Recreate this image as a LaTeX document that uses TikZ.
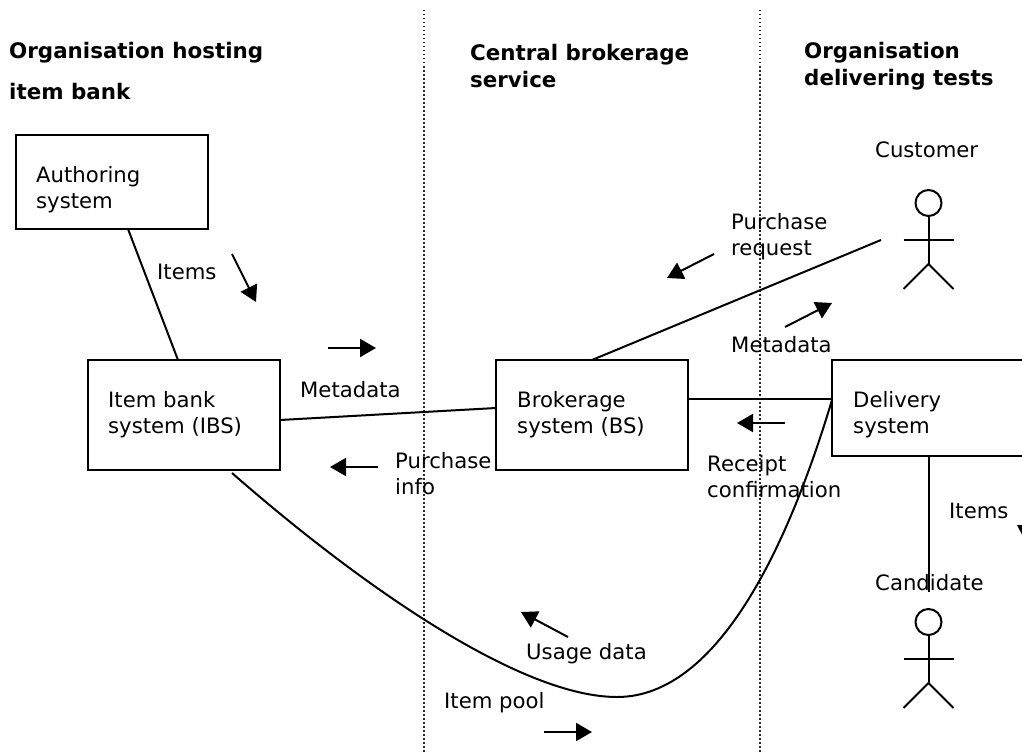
\documentclass[tikz,border=0pt]{standalone}
\usepackage{fontspec}
\setmainfont{DejaVu Sans}
\usetikzlibrary{arrows.meta}
\tikzset{
 box/.style={draw,line width=2pt,anchor=north west,inner sep=0pt,outer sep=0pt},
 lab/.style={font=\fontsize{21.2}{26}\selectfont,anchor=west,inner sep=0pt,align=left},
 hd/.style={font=\fontsize{21.4}{26.5}\selectfont\bfseries,anchor=west,inner sep=0pt,align=left},
 conn/.style={line width=2pt},
 arr/.style={line width=2pt,-{Triangle[length=16pt,width=18pt]}},
 sep/.style={line width=1.1pt,dash pattern=on 1.5pt off 2.5pt,black!85},
}
\newcommand{\stickman}[2]{%
 \draw[conn] (#1,#2) circle (13);
 \draw[conn] (#1,#2+13) -- (#1,#2+61);
 \draw[conn] (#1-25,#2+37) -- (#1+25,#2+37);
 \draw[conn] (#1-25,#2+86) -- (#1,#2+61) -- (#1+25,#2+86);
}
\begin{document}
\begin{tikzpicture}[x=1pt,y=-1pt]
\useasboundingbox (0,0) rectangle (1022,752);
\clip (0,0) rectangle (1022,752);
\coordinate (s1a) at (424,10); \coordinate (s1b) at (424,752);
\coordinate (s2a) at (760,10); \coordinate (s2b) at (760,752);
\draw[sep] (s1a)--(s1b); \draw[sep] (s2a)--(s2b);
\node[hd] (h1) at (9,53) {Organisation hosting};
\node[hd] (h1b) at (9,92) {item bank};
\node[hd] (h2) at (470,66) {Central brokerage\\service};
\node[hd] (h3) at (804,66) {Organisation\\delivering tests};
\node[box,minimum width=192pt,minimum height=94pt] (auth) at (16,135) {};
\node[lab] (authl) at (36,190) {Authoring\\system};
\node[box,minimum width=192pt,minimum height=110pt] (ibs) at (88,360) {};
\node[lab] (ibsl) at (108,415) {Item bank\\system (IBS)};
\node[box,minimum width=192pt,minimum height=110pt] (bs) at (496,360) {};
\node[lab] (bsl) at (517,415) {Brokerage\\system (BS)};
\node[box,minimum width=200pt,minimum height=96pt] (ds) at (832,360) {};
\node[lab] (dsl) at (853,415) {Delivery\\system};
\node[lab] (l1) at (157,272) {Items};
\node[lab] (l2) at (300,390) {Metadata};
\node[lab] (l3) at (395,474) {Purchase\\info};
\node[lab] (l4) at (731,237) {Purchase\\request};
\node[lab] (l5) at (731,345) {Metadata};
\node[lab] (l6) at (707,477) {Receipt\\confirmation};
\node[lab] (l7) at (949,511) {Items};
\node[lab] (l8) at (875,583) {Candidate};
\node[lab] (l9) at (875,150) {Customer};
\node[lab] (l10) at (526,654) {Usage data};
\node[lab] (l11) at (444,703) {Item pool};
\coordinate (cust) at (881,240);
\coordinate (cand) at (929,592);
\stickman{928.5}{203}
\stickman{928.5}{622}
\draw[conn] (128,229) -- (178,360);
\draw[conn] (280,420) -- (496,408);
\draw[conn] (592,360) -- (cust);
\draw[conn] (688,399) -- (832,399);
\draw[conn] (929,456) -- (cand);
\draw[conn] (232,473) .. controls (360,585) and (520,697) .. (617,697) .. controls (720,697) and (790,540) .. (832,400);
\foreach \a/\b/\c/\d in {232/254/256/302,328/348/376/348,714/254/667/278,785/327/832/303,785/423/737/423,378/467/330/467,568/637/521/612,544/732/592/732}
 \draw[arr] (\a,\b) -- (\c,\d);
\fill (1017,525) -- (1030,525) -- (1030,550) -- cycle;
\end{tikzpicture}
\end{document}
